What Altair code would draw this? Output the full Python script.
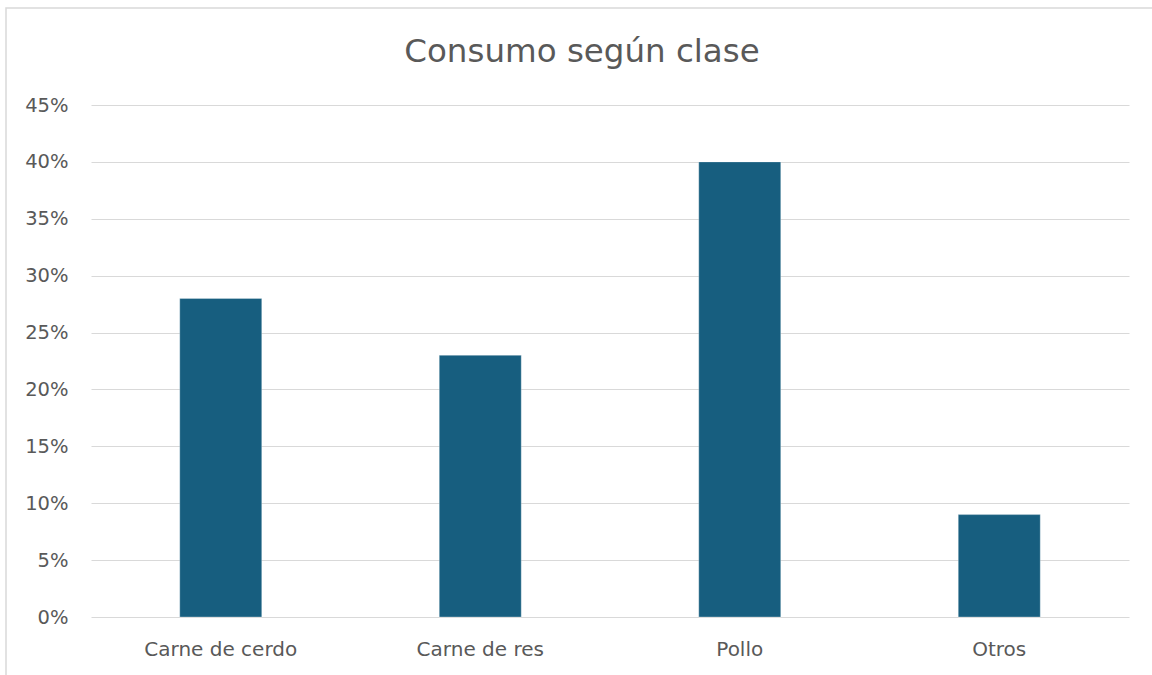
import altair as alt
import pandas as pd

categorias = ["Carne de cerdo", "Carne de res", "Pollo", "Otros"]
valores = [0.28, 0.23, 0.40, 0.09]
titulo = "Consumo según clase"
ticks_y = [0, 0.05, 0.10, 0.15, 0.20, 0.25, 0.30, 0.35, 0.40, 0.45]

df = pd.DataFrame({"categoria": categorias, "valor": valores})

FONT = "DejaVu Sans"
GRAY = "#595959"

single = pd.DataFrame({"a": [0]})

frame = alt.Chart(single).mark_rect(
    fill=None, stroke="#d9d9d9", strokeWidth=1.5
).encode(
    x=alt.value(-85), x2=alt.value(1075),
    y=alt.value(-97), y2=alt.value(580),
)

title_mark = alt.Chart(single).mark_text(
    font=FONT, fontSize=32.5, color=GRAY, align="center", baseline="alphabetic"
).encode(
    x=alt.value(491), y=alt.value(-43), text=alt.value(titulo)
)

bars = alt.Chart(df).mark_bar(size=82, color="#175e7f", stroke="#ffffff",
                              strokeWidth=0.6, strokeOpacity=0.5).encode(
    x=alt.X("categoria:N", sort=categorias, title=None,
            scale=alt.Scale(paddingInner=0, paddingOuter=0),
            axis=alt.Axis(labelAngle=0, domain=False, ticks=False, grid=False,
                          labelPadding=22, labelFontSize=20, labelFont=FONT,
                          labelColor=GRAY)),
    y=alt.Y("valor:Q", title=None,
            scale=alt.Scale(domain=[0, 0.45], nice=False),
            axis=alt.Axis(values=ticks_y, format=".0%", domain=False, ticks=False,
                          gridColor="#d9d9d9", gridWidth=1.2, labelPadding=23,
                          labelFontSize=19.5, labelFont=FONT, labelColor=GRAY)),
)

chart = alt.layer(frame, title_mark, bars).properties(
    width=1038, height=512,
    autosize=alt.AutoSizeParams(type="none"),
    padding={"left": 91, "top": 105, "right": 23, "bottom": 58},
).configure(background="white", view=alt.ViewConfig(stroke=None, strokeWidth=0))

chart.save("out.html", embed_options={"renderer": "svg", "actions": False})
